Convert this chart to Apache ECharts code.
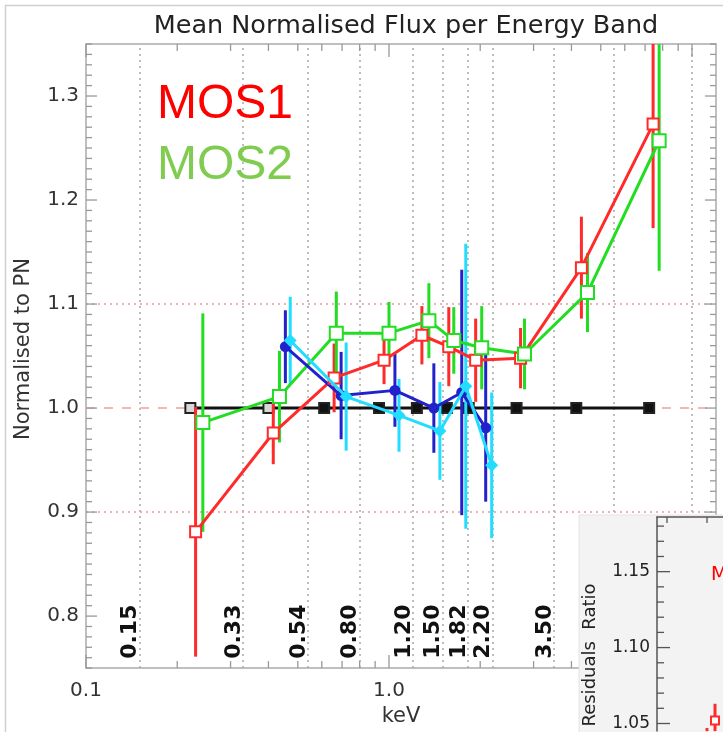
<!DOCTYPE html>
<html><head><meta charset="utf-8">
<script src="https://cdn.jsdelivr.net/npm/echarts@6/dist/echarts.min.js"></script>
<style>html,body{margin:0;padding:0;background:#fff}#c{width:723px;height:732px}</style>
</head><body><div id="c"></div>
<script>
// ---------- data ----------
const bandEdges = [0.15, 0.33, 0.54, 0.80, 1.20, 1.50, 1.82, 2.20, 3.50, 5.50, 10.0];
const bandLabels = ['0.15', '0.33', '0.54', '0.80', '1.20', '1.50', '1.82', '2.20', '3.50'];
const xTickValues = [0.1, 1, 10];
const xTickLabels = ['0.1', '1.0', '10.0'];
const yTickLabels = ['0.8', '0.9', '1.0', '1.1', '1.2', '1.3'];

const pnE  = [0.221, 0.400, 0.611, 0.927, 1.236, 1.552, 1.833, 2.636, 4.15, 7.22];
const pnV  = [1, 1, 1, 1, 1, 1, 1, 1, 1, 1];

const mos1E   = [0.230, 0.415, 0.659, 0.963, 1.284, 1.575, 1.932, 2.718, 4.315, 7.44];
const mos1V   = [0.881, 0.976, 1.029, 1.046, 1.070, 1.059, 1.046, 1.048, 1.135, 1.273];
const mos1Err = [0.120, 0.030, 0.033, 0.023, 0.028, 0.038, 0.040, 0.029, 0.049, 0.100];

const mos2E   = [0.243, 0.435, 0.670, 1.000, 1.354, 1.636, 2.023, 2.80, 4.52, 7.79];
const mos2V   = [0.986, 1.011, 1.072, 1.072, 1.084, 1.065, 1.058, 1.052, 1.111, 1.257];
const mos2Err = [0.105, 0.044, 0.040, 0.030, 0.036, 0.032, 0.040, 0.034, 0.038, 0.125];

const blueE   = [0.455, 0.695, 1.046, 1.406, 1.738, 2.085];
const blueV   = [1.059, 1.012, 1.017, 1.000, 1.015, 0.981];
const blueErr = [0.035, 0.042, 0.035, 0.043, 0.118, 0.071];

const cyanE   = [0.472, 0.722, 1.079, 1.472, 1.792, 2.182];
const cyanV   = [1.065, 1.011, 0.993, 0.978, 1.021, 0.945];
const cyanErr = [0.042, 0.052, 0.035, 0.047, 0.137, 0.070];

// inset (partially visible residuals panel)
const insetX   = [1.25, 1.45];
const insetV   = [1.035, 1.052];
const insetErr = [0.012, 0.011];
const insetYLabels = ['1.05', '1.10', '1.15'];
const insetXTicks = [0.25, 1.25];

// ---------- helpers ----------
const Y0 = 0.75, Y1 = 1.35, X0 = 0.1, X1 = 12;
const IY0 = 1.045, IY1 = 1.186, IX1 = 1.65;
const FONT = 'DejaVu Sans';

function pairs(xs, ys) { return xs.map((x, i) => [x, ys[i]]); }
function errData(xs, ys, es) { return xs.map((x, i) => [x, ys[i] - es[i], ys[i] + es[i]]); }

function errSeries(name, xs, ys, es, color, xi, yi, lo, hi, z) {
  return {
    type: 'custom', name: name, xAxisIndex: xi, yAxisIndex: yi, z: z, silent: true,
    data: errData(xs, ys, es), encode: { x: 0, y: [1, 2] },
    renderItem: function (params, api) {
      const a = Math.max(api.value(1), lo), b = Math.min(api.value(2), hi);
      const p1 = api.coord([api.value(0), a]);
      const p2 = api.coord([api.value(0), b]);
      return { type: 'line', shape: { x1: p1[0], y1: p1[1], x2: p2[0], y2: p2[1] },
               style: { stroke: color, lineWidth: 3 } };
    }
  };
}

// tick generation (positions of axis ticks, not data)
const yTicks = [];
for (let k = 75; k <= 135; k++) yTicks.push([X0, k / 100, k % 10 === 0 ? 1 : 0]);
const xTicks = [];
[0.1, 1].forEach(d => { for (let m = 1; m <= 9; m++) { const v = d * m; if (v >= X0 && v <= X1) xTicks.push([v, Y0, m === 1 ? 1 : 0]); } });
xTicks.push([10, Y0, 1]);
const iyTicks = [];
for (let k = 105; k <= 118; k++) iyTicks.push([0, k / 100, k % 5 === 0 ? 1 : 0]);

const chart = echarts.init(document.getElementById('c'), null, { renderer: 'canvas' });

const option = {
  animation: false,
  backgroundColor: '#fff',
  title: {
    text: 'Mean Normalised Flux per Energy Band',
    left: 401, top: 8, textAlign: 'center',
    textStyle: { fontFamily: FONT, fontSize: 25.5, fontWeight: 'normal', color: '#222' }
  },
  grid: [
    { left: 86, top: 44, right: 7, bottom: 63 },
    { left: 657, top: 517, right: 0, bottom: 0 }
  ],
  xAxis: [
    {
      type: 'log', logBase: 10, min: X0, max: X1, gridIndex: 0,
      axisLine: { show: true, lineStyle: { color: '#aaa', width: 1.5 } },
      axisTick: { show: false }, splitLine: { show: false },
      axisLabel: {
        margin: 13, fontFamily: FONT, fontSize: 20, color: '#333', showMaxLabel: false,
        formatter: function (v) {
          for (let i = 0; i < xTickValues.length; i++) if (Math.abs(v - xTickValues[i]) < 1e-6 * xTickValues[i]) return xTickLabels[i];
          return '';
        }
      },
      name: 'keV', nameLocation: 'middle', nameGap: 36,
      nameTextStyle: { fontFamily: FONT, fontSize: 21, color: '#333' }
    },
    {
      type: 'log', logBase: 10, min: X0, max: X1, gridIndex: 0, position: 'top',
      axisLine: { show: true, lineStyle: { color: '#aaa', width: 1.5 } },
      axisTick: { show: false }, axisLabel: { show: false }, splitLine: { show: false }
    },
    {
      type: 'value', min: 0, max: IX1, gridIndex: 1, position: 'top', z: 60,
      axisLine: { show: true, lineStyle: { color: '#555', width: 1.5 } },
      axisTick: { show: false }, axisLabel: { show: false }, splitLine: { show: false }
    }
  ],
  yAxis: [
    {
      type: 'value', min: Y0, max: Y1, interval: 0.05, gridIndex: 0,
      axisLine: { show: true, lineStyle: { color: '#aaa', width: 1.5 } },
      axisTick: { show: false }, splitLine: { show: false },
      axisLabel: {
        margin: 7, fontFamily: FONT, fontSize: 20, color: '#333',
        formatter: function (v) { const s = v.toFixed(1); return (Math.abs(v * 10 - Math.round(v * 10)) < 1e-6 && yTickLabels.indexOf(s) >= 0) ? s : ''; }
      },
      name: 'Normalised to PN', nameLocation: 'middle', nameGap: 52, nameRotate: 90,
      nameTextStyle: { fontFamily: FONT, fontSize: 21, color: '#333', padding: [0, 0, 0, 14] }
    },
    {
      type: 'value', min: Y0, max: Y1, gridIndex: 0, position: 'right',
      axisLine: { show: true, lineStyle: { color: '#aaa', width: 1.5 } },
      axisTick: { show: false }, axisLabel: { show: false }, splitLine: { show: false }
    },
    {
      type: 'value', min: IY0, max: IY1, interval: 0.005, gridIndex: 1, z: 60,
      axisLine: { show: true, lineStyle: { color: '#555', width: 1.5 } },
      axisTick: { show: false }, splitLine: { show: false },
      axisLabel: {
        margin: 7, fontFamily: FONT, fontSize: 17, color: '#222', showMaxLabel: false, showMinLabel: false,
        formatter: function (v) { const s = v.toFixed(2); return (Math.abs(v * 20 - Math.round(v * 20)) < 1e-6 && insetYLabels.indexOf(s) >= 0) ? s : ''; }
      }
    }
  ],
  graphic: [
    { type: 'rect', z: 1, silent: true, shape: { x: 5.5, y: 5.5, width: 900, height: 900 }, style: { fill: 'none', stroke: '#d0d0d0', lineWidth: 1.5 } },
    { type: 'text', z: 10, style: { x: 157, y: 105, text: 'MOS1', font: '48px "Liberation Sans"', fill: '#ff0000', textVerticalAlign: 'middle' } },
    { type: 'text', z: 10, style: { x: 157, y: 166, text: 'MOS2', font: '48px "Liberation Sans"', fill: '#80cc50', textVerticalAlign: 'middle' } },
    { type: 'rect', z: 50, silent: true, shape: { x: 579, y: 515, width: 200, height: 230 }, style: { fill: '#f3f3f3', stroke: '#e4e4e4', lineWidth: 1 } },
    { type: 'text', z: 61, x: 590, y: 655, rotation: Math.PI / 2, style: { x: 0, y: 0, text: 'Residuals  Ratio', font: '18px "DejaVu Sans"', fill: '#222', textAlign: 'center', textVerticalAlign: 'middle' } },
    { type: 'text', z: 61, style: { x: 711, y: 575, text: 'MOS1', font: '19px "DejaVu Sans"', fill: '#ff0000', textVerticalAlign: 'middle' } }
  ],
  series: [
    // reference lines + vertical band grid
    {
      type: 'line', xAxisIndex: 0, yAxisIndex: 0, data: [], z: 1, silent: true,
      markLine: {
        z: 1, symbol: 'none', silent: true, label: { show: false }, animation: false,
        data: bandEdges.map(e => ({ xAxis: e, lineStyle: { type: [2, 4], color: '#a8a8a8', width: 1.5 } }))
          .concat([
            { yAxis: 1.1, lineStyle: { type: [2, 4], color: '#e89a9a', width: 1.5 } },
            { yAxis: 0.9, lineStyle: { type: [2, 4], color: '#e89a9a', width: 1.5 } },
            { yAxis: 1.0, lineStyle: { type: [9, 9], color: '#f2b8b8', width: 2 } }
          ])
      }
    },
    // axis ticks (main)
    {
      type: 'custom', xAxisIndex: 0, yAxisIndex: 0, z: 2, silent: true, data: yTicks, encode: { x: 0, y: 1 },
      renderItem: function (params, api) {
        const v = api.value(1), L = api.value(2) ? 11 : 6;
        const a = api.coord([X0, v]), b = api.coord([X1, v]);
        return { type: 'group', children: [
          { type: 'line', shape: { x1: a[0], y1: a[1], x2: a[0] + L, y2: a[1] }, style: { stroke: '#999', lineWidth: 1.3 } },
          { type: 'line', shape: { x1: b[0], y1: b[1], x2: b[0] - L, y2: b[1] }, style: { stroke: '#999', lineWidth: 1.3 } }
        ] };
      }
    },
    {
      type: 'custom', xAxisIndex: 0, yAxisIndex: 0, z: 2, silent: true, data: xTicks, encode: { x: 0, y: 1 },
      renderItem: function (params, api) {
        const v = api.value(0), L = api.value(2) ? 13 : 7;
        const a = api.coord([v, Y0]), b = api.coord([v, Y1]);
        return { type: 'group', children: [
          { type: 'line', shape: { x1: a[0], y1: a[1], x2: a[0], y2: a[1] - L }, style: { stroke: '#999', lineWidth: 1.3 } },
          { type: 'line', shape: { x1: b[0], y1: b[1], x2: b[0], y2: b[1] + L }, style: { stroke: '#999', lineWidth: 1.3 } }
        ] };
      }
    },
    // band labels
    {
      type: 'custom', xAxisIndex: 0, yAxisIndex: 0, z: 6, silent: true,
      data: bandLabels.map((s, i) => [bandEdges[i], 0.785]), encode: { x: 0, y: 1 },
      renderItem: function (params, api) {
        const p = api.coord([api.value(0), api.value(1)]);
        return { type: 'text', x: p[0] - 9, y: p[1], rotation: Math.PI / 2,
                 style: { x: 0, y: 0, text: bandLabels[params.dataIndex], font: 'bold 22px "DejaVu Sans"', fill: '#111', textAlign: 'center', textVerticalAlign: 'middle' } };
      }
    },
    // PN reference
    {
      type: 'line', name: 'PN', xAxisIndex: 0, yAxisIndex: 0, z: 7, data: pairs(pnE, pnV),
      symbol: 'rect', symbolSize: 10, showAllSymbol: true,
      lineStyle: { color: '#111', width: 3 },
      itemStyle: { color: function (p) { return p.dataIndex < 2 ? '#d8d8d8' : '#111'; }, borderColor: '#222', borderWidth: 2 }
    },
    errSeries('MOS1 err', mos1E, mos1V, mos1Err, '#ff2a2a', 0, 0, Y0, Y1, 8),
    errSeries('MOS2 err', mos2E, mos2V, mos2Err, '#22dd22', 0, 0, Y0, Y1, 8),
    errSeries('blue err', blueE, blueV, blueErr, '#2222cc', 0, 0, Y0, Y1, 8),
    errSeries('cyan err', cyanE, cyanV, cyanErr, '#22ddff', 0, 0, Y0, Y1, 8),
    {
      type: 'line', name: 'MOS1', xAxisIndex: 0, yAxisIndex: 0, z: 9, data: pairs(mos1E, mos1V),
      symbol: 'emptyRect', symbolSize: 11, showAllSymbol: true,
      lineStyle: { color: '#ff2a2a', width: 3 }, itemStyle: { color: '#ff2a2a', borderWidth: 2 }
    },
    {
      type: 'line', name: 'MOS2', xAxisIndex: 0, yAxisIndex: 0, z: 9, data: pairs(mos2E, mos2V),
      symbol: 'emptyRect', symbolSize: 13, showAllSymbol: true,
      lineStyle: { color: '#22dd22', width: 3 }, itemStyle: { color: '#22dd22', borderWidth: 3 }
    },
    {
      type: 'line', name: 'blue', xAxisIndex: 0, yAxisIndex: 0, z: 9, data: pairs(blueE, blueV),
      symbol: 'circle', symbolSize: 11, showAllSymbol: true,
      lineStyle: { color: '#2222cc', width: 3 }, itemStyle: { color: '#2222cc' }
    },
    {
      type: 'line', name: 'cyan', xAxisIndex: 0, yAxisIndex: 0, z: 10, data: pairs(cyanE, cyanV),
      symbol: 'diamond', symbolSize: 13, showAllSymbol: true,
      lineStyle: { color: '#22ddff', width: 3 }, itemStyle: { color: '#22ddff' }
    },
    // inset ticks
    {
      type: 'custom', xAxisIndex: 2, yAxisIndex: 2, z: 60, silent: true, data: iyTicks, encode: { x: 0, y: 1 },
      renderItem: function (params, api) {
        const v = api.value(1), L = api.value(2) ? 13 : 7;
        const a = api.coord([0, v]);
        return { type: 'line', shape: { x1: a[0], y1: a[1], x2: a[0] + L, y2: a[1] }, style: { stroke: '#555', lineWidth: 1.3 } };
      }
    },
    {
      type: 'custom', xAxisIndex: 2, yAxisIndex: 2, z: 60, silent: true, data: insetXTicks.map(v => [v, IY1]), encode: { x: 0, y: 1 },
      renderItem: function (params, api) {
        const a = api.coord([api.value(0), IY1]);
        return { type: 'line', shape: { x1: a[0], y1: a[1], x2: a[0], y2: a[1] + 6 }, style: { stroke: '#555', lineWidth: 1.3 } };
      }
    },
    errSeries('inset err', insetX, insetV, insetErr, '#ff2a2a', 2, 2, IY0, IY1, 60),
    {
      type: 'line', name: 'inset', xAxisIndex: 2, yAxisIndex: 2, z: 61, data: pairs(insetX, insetV),
      symbol: 'emptyRect', symbolSize: 8, showAllSymbol: true,
      lineStyle: { width: 0, opacity: 0 }, itemStyle: { color: '#ff2a2a', borderWidth: 2 }
    }
  ]
};
chart.setOption(option);
</script>
</body></html>
